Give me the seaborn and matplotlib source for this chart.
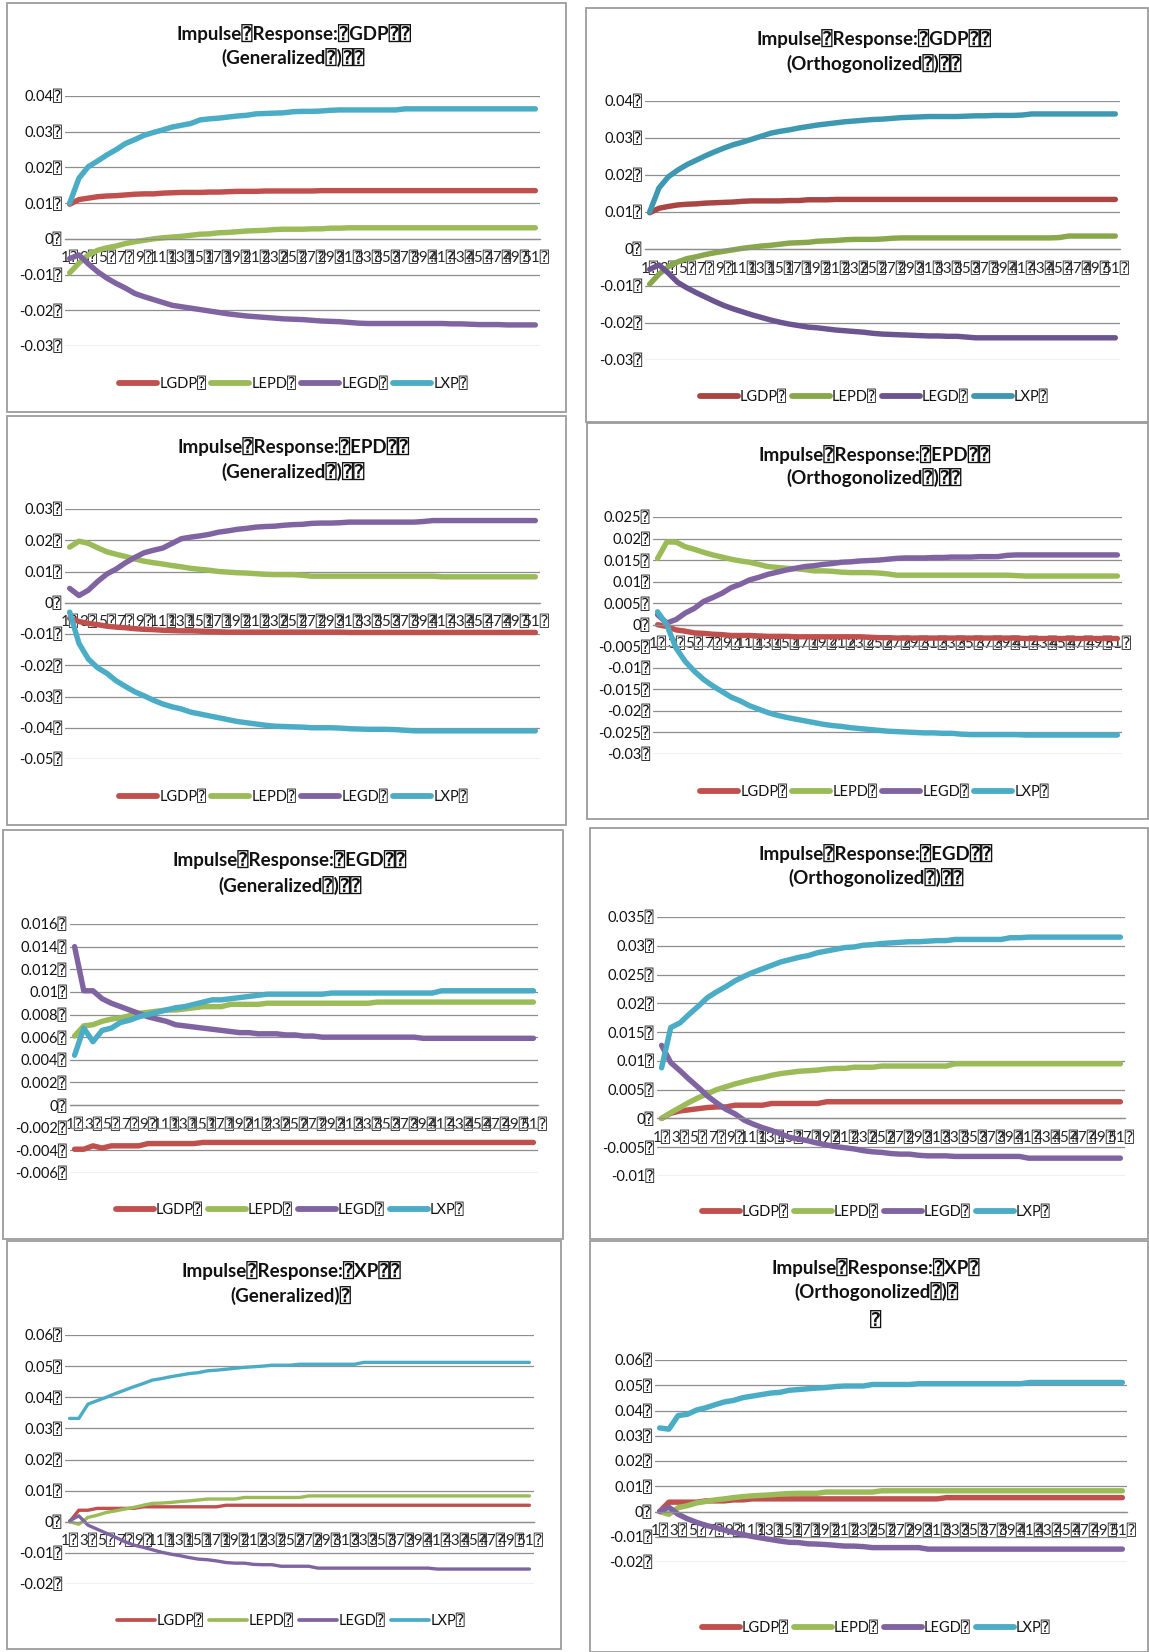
import matplotlib
matplotlib.use("Agg")
import matplotlib.pyplot as plt
from matplotlib.lines import Line2D
from matplotlib.patches import Rectangle
import pandas as pd
import seaborn as sns

sns.set_theme(style="white")
FONTS = ["Lato", "DejaVu Sans", "DejaVu Sans Mono"]
plt.rcParams["font.family"] = FONTS

BOX = "\u2370"

periods = list(range(1, 52))
variables = ["LGDP", "LEPD", "LEGD", "LXP"]
legend_labels = [v + BOX for v in variables]
x_tick_values = periods[::2]
x_tick_labels = [f"{p}{BOX}" for p in x_tick_values]

# ---------------- shock: LGDP, generalized ----------------
gdp_gen_lgdp = [0.0097, 0.0110, 0.0114, 0.0118, 0.0120, 0.0121, 0.0123, 0.0125, 0.0126, 0.0126,
                0.0128, 0.0129, 0.0130, 0.0130, 0.0130, 0.0131, 0.0131, 0.0132, 0.0133, 0.0133,
                0.0133, 0.0134, 0.0134, 0.0134, 0.0134, 0.0134, 0.0134, 0.0135, 0.0135, 0.0135,
                0.0135, 0.0135, 0.0135, 0.0135, 0.0135, 0.0135, 0.0135, 0.0135, 0.0135, 0.0135,
                0.0135, 0.0135, 0.0135, 0.0135, 0.0135, 0.0135, 0.0135, 0.0135, 0.0135, 0.0135, 0.0135]
gdp_gen_lepd = [-0.0095, -0.0068, -0.0045, -0.0032, -0.0025, -0.0020, -0.0013, -0.0008, -0.0004, 0.0000,
                0.0003, 0.0005, 0.0007, 0.0010, 0.0013, 0.0014, 0.0017, 0.0018, 0.0020, 0.0022,
                0.0023, 0.0024, 0.0026, 0.0027, 0.0027, 0.0027, 0.0028, 0.0028, 0.0030, 0.0030,
                0.0031, 0.0031, 0.0031, 0.0031, 0.0031, 0.0031, 0.0031, 0.0031, 0.0031, 0.0031,
                0.0031, 0.0031, 0.0031, 0.0031, 0.0031, 0.0031, 0.0031, 0.0031, 0.0031, 0.0031, 0.0031]
gdp_gen_legd = [-0.0055, -0.0045, -0.0070, -0.0092, -0.0110, -0.0125, -0.0138, -0.0153, -0.0162, -0.0170,
                -0.0178, -0.0186, -0.0190, -0.0194, -0.0198, -0.0202, -0.0206, -0.0210, -0.0213, -0.0216,
                -0.0218, -0.0220, -0.0222, -0.0224, -0.0225, -0.0226, -0.0228, -0.0230, -0.0231, -0.0232,
                -0.0234, -0.0236, -0.0237, -0.0237, -0.0237, -0.0237, -0.0237, -0.0237, -0.0237, -0.0237,
                -0.0237, -0.0238, -0.0238, -0.0239, -0.0240, -0.0240, -0.0240, -0.0241, -0.0241, -0.0241, -0.0241]
gdp_gen_lxp = [0.0100, 0.0170, 0.0202, 0.0218, 0.0235, 0.0250, 0.0267, 0.0278, 0.0290, 0.0298,
               0.0305, 0.0313, 0.0318, 0.0323, 0.0333, 0.0336, 0.0338, 0.0341, 0.0344, 0.0346,
               0.0350, 0.0351, 0.0352, 0.0353, 0.0356, 0.0357, 0.0357, 0.0358, 0.0360, 0.0361,
               0.0361, 0.0361, 0.0361, 0.0361, 0.0361, 0.0361, 0.0364, 0.0364, 0.0364, 0.0364,
               0.0364, 0.0364, 0.0364, 0.0364, 0.0364, 0.0364, 0.0364, 0.0364, 0.0364, 0.0364, 0.0364]

# ---------------- shock: LGDP, orthogonalized ----------------
gdp_orth_lgdp = [0.0098, 0.0110, 0.0115, 0.0119, 0.0121, 0.0122, 0.0124, 0.0125, 0.0126, 0.0127,
                 0.0129, 0.0130, 0.0130, 0.0130, 0.0130, 0.0131, 0.0131, 0.0133, 0.0133, 0.0133,
                 0.0134, 0.0134, 0.0134, 0.0134, 0.0134, 0.0134, 0.0134, 0.0134, 0.0134, 0.0134,
                 0.0134, 0.0134, 0.0134, 0.0134, 0.0134, 0.0134, 0.0134, 0.0134, 0.0134, 0.0134,
                 0.0134, 0.0134, 0.0134, 0.0134, 0.0134, 0.0134, 0.0134, 0.0134, 0.0134, 0.0134, 0.0134]
gdp_orth_lepd = [-0.0095, -0.0068, -0.0048, -0.0035, -0.0026, -0.0021, -0.0015, -0.0010, -0.0006, -0.0002,
                 0.0002, 0.0005, 0.0008, 0.0010, 0.0013, 0.0016, 0.0017, 0.0018, 0.0021, 0.0022,
                 0.0023, 0.0025, 0.0026, 0.0026, 0.0026, 0.0027, 0.0029, 0.0030, 0.0030, 0.0030,
                 0.0030, 0.0030, 0.0030, 0.0030, 0.0030, 0.0030, 0.0030, 0.0030, 0.0030, 0.0030,
                 0.0030, 0.0030, 0.0030, 0.0030, 0.0031, 0.0035, 0.0035, 0.0035, 0.0035, 0.0035, 0.0035]
gdp_orth_legd = [-0.0055, -0.0043, -0.0065, -0.0090, -0.0105, -0.0118, -0.0130, -0.0142, -0.0153, -0.0162,
                 -0.0170, -0.0178, -0.0185, -0.0192, -0.0198, -0.0203, -0.0207, -0.0211, -0.0213, -0.0216,
                 -0.0219, -0.0221, -0.0223, -0.0225, -0.0228, -0.0230, -0.0231, -0.0232, -0.0233, -0.0234,
                 -0.0235, -0.0235, -0.0236, -0.0236, -0.0238, -0.0240, -0.0240, -0.0240, -0.0240, -0.0240,
                 -0.0240, -0.0240, -0.0240, -0.0240, -0.0240, -0.0240, -0.0240, -0.0240, -0.0240, -0.0240, -0.0240]
gdp_orth_lxp = [0.0100, 0.0165, 0.0195, 0.0213, 0.0228, 0.0240, 0.0252, 0.0263, 0.0273, 0.0282,
                0.0289, 0.0297, 0.0305, 0.0313, 0.0318, 0.0322, 0.0327, 0.0331, 0.0335, 0.0338,
                0.0341, 0.0344, 0.0346, 0.0348, 0.0350, 0.0351, 0.0353, 0.0355, 0.0356, 0.0357,
                0.0358, 0.0358, 0.0358, 0.0358, 0.0359, 0.0360, 0.0360, 0.0361, 0.0361, 0.0361,
                0.0362, 0.0365, 0.0365, 0.0365, 0.0365, 0.0365, 0.0365, 0.0365, 0.0365, 0.0365, 0.0365]

# ---------------- shock: LEPD, generalized ----------------
epd_gen_lgdp = [-0.0050, -0.0060, -0.0066, -0.0070, -0.0075, -0.0078, -0.0080, -0.0083, -0.0085, -0.0086,
                -0.0088, -0.0089, -0.0090, -0.0090, -0.0091, -0.0092, -0.0093, -0.0094, -0.0094, -0.0094,
                -0.0094, -0.0094, -0.0094, -0.0094, -0.0094, -0.0094, -0.0094, -0.0094, -0.0094, -0.0094,
                -0.0095, -0.0095, -0.0095, -0.0095, -0.0095, -0.0095, -0.0095, -0.0095, -0.0095, -0.0095,
                -0.0095, -0.0095, -0.0095, -0.0095, -0.0095, -0.0095, -0.0095, -0.0095, -0.0095, -0.0095, -0.0095]
epd_gen_lepd = [0.0178, 0.0197, 0.0190, 0.0176, 0.0163, 0.0155, 0.0148, 0.0140, 0.0133, 0.0128,
                0.0124, 0.0119, 0.0115, 0.0110, 0.0107, 0.0104, 0.0100, 0.0098, 0.0096, 0.0095,
                0.0093, 0.0091, 0.0090, 0.0090, 0.0090, 0.0088, 0.0085, 0.0085, 0.0085, 0.0085,
                0.0085, 0.0085, 0.0085, 0.0085, 0.0085, 0.0085, 0.0085, 0.0085, 0.0085, 0.0085,
                0.0083, 0.0083, 0.0083, 0.0083, 0.0083, 0.0083, 0.0083, 0.0083, 0.0083, 0.0083, 0.0083]
epd_gen_legd = [0.0046, 0.0023, 0.0040, 0.0068, 0.0092, 0.0108, 0.0128, 0.0145, 0.0160, 0.0168,
                0.0175, 0.0190, 0.0205, 0.0210, 0.0214, 0.0219, 0.0226, 0.0230, 0.0235, 0.0238,
                0.0242, 0.0244, 0.0245, 0.0248, 0.0250, 0.0251, 0.0254, 0.0255, 0.0255, 0.0256,
                0.0258, 0.0258, 0.0258, 0.0258, 0.0258, 0.0258, 0.0258, 0.0258, 0.0260, 0.0263,
                0.0263, 0.0263, 0.0263, 0.0263, 0.0263, 0.0263, 0.0263, 0.0263, 0.0263, 0.0263, 0.0263]
epd_gen_lxp = [-0.0030, -0.0130, -0.0180, -0.0208, -0.0226, -0.0250, -0.0268, -0.0285, -0.0298, -0.0312,
               -0.0324, -0.0333, -0.0340, -0.0350, -0.0356, -0.0362, -0.0368, -0.0374, -0.0380, -0.0384,
               -0.0388, -0.0392, -0.0395, -0.0396, -0.0397, -0.0398, -0.0400, -0.0400, -0.0400, -0.0401,
               -0.0403, -0.0404, -0.0405, -0.0405, -0.0405, -0.0406, -0.0408, -0.0410, -0.0410, -0.0410,
               -0.0410, -0.0410, -0.0410, -0.0410, -0.0410, -0.0410, -0.0410, -0.0410, -0.0410, -0.0410, -0.0410]

# ---------------- shock: LEPD, orthogonalized ----------------
epd_orth_lgdp = [0.0000, -0.0004, -0.0012, -0.0015, -0.0019, -0.0020, -0.0022, -0.0023, -0.0025, -0.0025,
                 -0.0025, -0.0026, -0.0027, -0.0027, -0.0027, -0.0028, -0.0028, -0.0028, -0.0028, -0.0028,
                 -0.0028, -0.0028, -0.0028, -0.0029, -0.0030, -0.0030, -0.0031, -0.0031, -0.0031, -0.0031,
                 -0.0031, -0.0031, -0.0031, -0.0031, -0.0031, -0.0031, -0.0031, -0.0031, -0.0031, -0.0031,
                 -0.0032, -0.0032, -0.0032, -0.0032, -0.0032, -0.0032, -0.0032, -0.0032, -0.0032, -0.0032, -0.0032]
epd_orth_lepd = [0.0154, 0.0192, 0.0192, 0.0181, 0.0175, 0.0168, 0.0162, 0.0157, 0.0152, 0.0148,
                 0.0145, 0.0140, 0.0135, 0.0133, 0.0131, 0.0130, 0.0128, 0.0125, 0.0125, 0.0124,
                 0.0122, 0.0121, 0.0121, 0.0121, 0.0120, 0.0118, 0.0115, 0.0115, 0.0115, 0.0115,
                 0.0115, 0.0115, 0.0115, 0.0115, 0.0115, 0.0115, 0.0115, 0.0115, 0.0115, 0.0114,
                 0.0113, 0.0113, 0.0113, 0.0113, 0.0113, 0.0113, 0.0113, 0.0113, 0.0113, 0.0113, 0.0113]
epd_orth_legd = [0.0023, 0.0004, 0.0012, 0.0027, 0.0038, 0.0054, 0.0063, 0.0073, 0.0086, 0.0094,
                 0.0104, 0.0110, 0.0117, 0.0122, 0.0127, 0.0131, 0.0135, 0.0137, 0.0140, 0.0142,
                 0.0145, 0.0146, 0.0148, 0.0149, 0.0150, 0.0152, 0.0154, 0.0155, 0.0155, 0.0155,
                 0.0156, 0.0156, 0.0157, 0.0157, 0.0157, 0.0158, 0.0158, 0.0158, 0.0161, 0.0162,
                 0.0162, 0.0162, 0.0162, 0.0162, 0.0162, 0.0162, 0.0162, 0.0162, 0.0162, 0.0162, 0.0162]
epd_orth_lxp = [0.0030, 0.0000, -0.0054, -0.0085, -0.0108, -0.0127, -0.0142, -0.0155, -0.0168, -0.0177,
                -0.0188, -0.0196, -0.0204, -0.0210, -0.0215, -0.0219, -0.0223, -0.0227, -0.0231, -0.0234,
                -0.0236, -0.0239, -0.0241, -0.0243, -0.0245, -0.0247, -0.0248, -0.0249, -0.0250, -0.0251,
                -0.0251, -0.0252, -0.0252, -0.0254, -0.0255, -0.0255, -0.0255, -0.0255, -0.0255, -0.0255,
                -0.0256, -0.0256, -0.0256, -0.0256, -0.0256, -0.0256, -0.0256, -0.0256, -0.0256, -0.0256, -0.0256]

# ---------------- shock: LEGD, generalized ----------------
egd_gen_lgdp = [-0.0039, -0.0039, -0.0036, -0.0038, -0.0036, -0.0036, -0.0036, -0.0036, -0.0034, -0.0034,
                -0.0034, -0.0034, -0.0034, -0.0034, -0.0033, -0.0033, -0.0033, -0.0033, -0.0033, -0.0033,
                -0.0033, -0.0033, -0.0033, -0.0033, -0.0033, -0.0033, -0.0033, -0.0033, -0.0033, -0.0033,
                -0.0033, -0.0033, -0.0033, -0.0033, -0.0033, -0.0033, -0.0033, -0.0033, -0.0033, -0.0033,
                -0.0033, -0.0033, -0.0033, -0.0033, -0.0033, -0.0033, -0.0033, -0.0033, -0.0033, -0.0033, -0.0033]
egd_gen_lepd = [0.0061, 0.0070, 0.0071, 0.0074, 0.0076, 0.0077, 0.0079, 0.0081, 0.0082, 0.0083,
                0.0084, 0.0084, 0.0085, 0.0086, 0.0087, 0.0087, 0.0087, 0.0089, 0.0089, 0.0089,
                0.0089, 0.0090, 0.0090, 0.0090, 0.0090, 0.0090, 0.0090, 0.0090, 0.0090, 0.0090,
                0.0090, 0.0090, 0.0090, 0.0091, 0.0091, 0.0091, 0.0091, 0.0091, 0.0091, 0.0091,
                0.0091, 0.0091, 0.0091, 0.0091, 0.0091, 0.0091, 0.0091, 0.0091, 0.0091, 0.0091, 0.0091]
egd_gen_legd = [0.0140, 0.0101, 0.0101, 0.0094, 0.0090, 0.0087, 0.0084, 0.0081, 0.0078, 0.0076,
                0.0074, 0.0071, 0.0070, 0.0069, 0.0068, 0.0067, 0.0066, 0.0065, 0.0064, 0.0064,
                0.0063, 0.0063, 0.0063, 0.0062, 0.0062, 0.0061, 0.0061, 0.0060, 0.0060, 0.0060,
                0.0060, 0.0060, 0.0060, 0.0060, 0.0060, 0.0060, 0.0060, 0.0060, 0.0059, 0.0059,
                0.0059, 0.0059, 0.0059, 0.0059, 0.0059, 0.0059, 0.0059, 0.0059, 0.0059, 0.0059, 0.0059]
egd_gen_lxp = [0.0044, 0.0068, 0.0056, 0.0066, 0.0068, 0.0073, 0.0075, 0.0078, 0.0080, 0.0082,
               0.0084, 0.0086, 0.0087, 0.0089, 0.0091, 0.0093, 0.0093, 0.0094, 0.0095, 0.0096,
               0.0097, 0.0098, 0.0098, 0.0098, 0.0098, 0.0098, 0.0098, 0.0098, 0.0099, 0.0099,
               0.0099, 0.0099, 0.0099, 0.0099, 0.0099, 0.0099, 0.0099, 0.0099, 0.0099, 0.0099,
               0.0101, 0.0101, 0.0101, 0.0101, 0.0101, 0.0101, 0.0101, 0.0101, 0.0101, 0.0101, 0.0101]

# ---------------- shock: LEGD, orthogonalized ----------------
egd_orth_lgdp = [0.0000, 0.0009, 0.0013, 0.0015, 0.0017, 0.0019, 0.0020, 0.0020, 0.0023, 0.0023,
                 0.0023, 0.0023, 0.0026, 0.0026, 0.0026, 0.0026, 0.0026, 0.0026, 0.0029, 0.0029,
                 0.0029, 0.0029, 0.0029, 0.0029, 0.0029, 0.0029, 0.0029, 0.0029, 0.0029, 0.0029,
                 0.0029, 0.0029, 0.0029, 0.0029, 0.0029, 0.0029, 0.0029, 0.0029, 0.0029, 0.0029,
                 0.0029, 0.0029, 0.0029, 0.0029, 0.0029, 0.0029, 0.0029, 0.0029, 0.0029, 0.0029, 0.0029]
egd_orth_lepd = [0.0000, 0.0010, 0.0019, 0.0028, 0.0036, 0.0043, 0.0050, 0.0055, 0.0060, 0.0064,
                 0.0068, 0.0071, 0.0075, 0.0078, 0.0080, 0.0082, 0.0083, 0.0084, 0.0086, 0.0087,
                 0.0087, 0.0089, 0.0089, 0.0089, 0.0091, 0.0091, 0.0091, 0.0091, 0.0091, 0.0091,
                 0.0091, 0.0091, 0.0095, 0.0095, 0.0095, 0.0095, 0.0095, 0.0095, 0.0095, 0.0095,
                 0.0095, 0.0095, 0.0095, 0.0095, 0.0095, 0.0095, 0.0095, 0.0095, 0.0095, 0.0095, 0.0095]
egd_orth_legd = [0.0127, 0.0097, 0.0083, 0.0068, 0.0054, 0.0039, 0.0027, 0.0016, 0.0008, -0.0003,
                 -0.0010, -0.0016, -0.0021, -0.0027, -0.0033, -0.0036, -0.0039, -0.0043, -0.0046, -0.0049,
                 -0.0051, -0.0053, -0.0056, -0.0058, -0.0059, -0.0061, -0.0062, -0.0062, -0.0064, -0.0065,
                 -0.0065, -0.0065, -0.0066, -0.0066, -0.0066, -0.0066, -0.0066, -0.0066, -0.0066, -0.0066,
                 -0.0069, -0.0069, -0.0069, -0.0069, -0.0069, -0.0069, -0.0069, -0.0069, -0.0069, -0.0069, -0.0069]
egd_orth_lxp = [0.0088, 0.0158, 0.0166, 0.0181, 0.0195, 0.0210, 0.0220, 0.0229, 0.0239, 0.0247,
                0.0254, 0.0260, 0.0266, 0.0272, 0.0276, 0.0280, 0.0283, 0.0288, 0.0291, 0.0294,
                0.0297, 0.0298, 0.0301, 0.0302, 0.0304, 0.0305, 0.0306, 0.0307, 0.0307, 0.0308,
                0.0309, 0.0309, 0.0311, 0.0311, 0.0311, 0.0311, 0.0311, 0.0311, 0.0314, 0.0314,
                0.0315, 0.0315, 0.0315, 0.0315, 0.0315, 0.0315, 0.0315, 0.0315, 0.0315, 0.0315, 0.0315]

# ---------------- shock: LXP, generalized ----------------
xp_gen_lgdp = [0.0000, 0.0037, 0.0037, 0.0043, 0.0043, 0.0043, 0.0043, 0.0043, 0.0048, 0.0048,
               0.0048, 0.0048, 0.0048, 0.0048, 0.0048, 0.0048, 0.0048, 0.0053, 0.0053, 0.0053,
               0.0053, 0.0053, 0.0053, 0.0053, 0.0053, 0.0053, 0.0053, 0.0053, 0.0053, 0.0053,
               0.0053, 0.0053, 0.0053, 0.0053, 0.0053, 0.0053, 0.0053, 0.0053, 0.0053, 0.0053,
               0.0053, 0.0053, 0.0053, 0.0053, 0.0053, 0.0053, 0.0053, 0.0053, 0.0053, 0.0053, 0.0053]
xp_gen_lepd = [0.0000, -0.0008, 0.0014, 0.0021, 0.0030, 0.0035, 0.0041, 0.0046, 0.0053, 0.0059,
               0.0060, 0.0062, 0.0065, 0.0067, 0.0070, 0.0073, 0.0073, 0.0073, 0.0073, 0.0078,
               0.0078, 0.0078, 0.0078, 0.0078, 0.0078, 0.0078, 0.0083, 0.0083, 0.0083, 0.0083,
               0.0083, 0.0083, 0.0083, 0.0083, 0.0083, 0.0083, 0.0083, 0.0083, 0.0083, 0.0083,
               0.0083, 0.0083, 0.0083, 0.0083, 0.0083, 0.0083, 0.0083, 0.0083, 0.0083, 0.0083, 0.0083]
xp_gen_legd = [0.0003, 0.0019, -0.0011, -0.0024, -0.0037, -0.0050, -0.0064, -0.0075, -0.0082, -0.0090,
               -0.0098, -0.0104, -0.0109, -0.0115, -0.0120, -0.0122, -0.0126, -0.0131, -0.0133, -0.0133,
               -0.0137, -0.0138, -0.0138, -0.0143, -0.0143, -0.0143, -0.0143, -0.0149, -0.0149, -0.0149,
               -0.0149, -0.0149, -0.0149, -0.0149, -0.0149, -0.0149, -0.0149, -0.0149, -0.0149, -0.0149,
               -0.0152, -0.0152, -0.0152, -0.0152, -0.0152, -0.0152, -0.0152, -0.0152, -0.0152, -0.0152, -0.0152]
xp_gen_lxp = [0.0332, 0.0332, 0.0378, 0.0389, 0.0400, 0.0412, 0.0423, 0.0434, 0.0444, 0.0455,
              0.0460, 0.0466, 0.0471, 0.0476, 0.0479, 0.0485, 0.0487, 0.0490, 0.0493, 0.0496,
              0.0498, 0.0500, 0.0503, 0.0503, 0.0503, 0.0506, 0.0506, 0.0506, 0.0506, 0.0506,
              0.0506, 0.0506, 0.0512, 0.0512, 0.0512, 0.0512, 0.0512, 0.0512, 0.0512, 0.0512,
              0.0512, 0.0512, 0.0512, 0.0512, 0.0512, 0.0512, 0.0512, 0.0512, 0.0512, 0.0512, 0.0512]

# ---------------- shock: LXP, orthogonalized ----------------
xp_orth_lgdp = [0.0000, 0.0037, 0.0037, 0.0037, 0.0037, 0.0042, 0.0042, 0.0042, 0.0046, 0.0046,
                0.0050, 0.0050, 0.0050, 0.0050, 0.0050, 0.0050, 0.0050, 0.0050, 0.0050, 0.0050,
                0.0050, 0.0050, 0.0050, 0.0050, 0.0050, 0.0050, 0.0050, 0.0050, 0.0050, 0.0050,
                0.0050, 0.0055, 0.0055, 0.0055, 0.0055, 0.0055, 0.0055, 0.0055, 0.0055, 0.0055,
                0.0055, 0.0055, 0.0055, 0.0055, 0.0055, 0.0055, 0.0055, 0.0055, 0.0055, 0.0055, 0.0055]
xp_orth_lepd = [0.0000, -0.0011, 0.0015, 0.0023, 0.0034, 0.0040, 0.0046, 0.0050, 0.0055, 0.0059,
                0.0062, 0.0064, 0.0066, 0.0069, 0.0071, 0.0072, 0.0072, 0.0072, 0.0077, 0.0077,
                0.0077, 0.0077, 0.0077, 0.0077, 0.0082, 0.0082, 0.0082, 0.0082, 0.0082, 0.0082,
                0.0082, 0.0082, 0.0082, 0.0082, 0.0082, 0.0082, 0.0082, 0.0082, 0.0082, 0.0082,
                0.0082, 0.0082, 0.0082, 0.0082, 0.0082, 0.0082, 0.0082, 0.0082, 0.0082, 0.0082, 0.0082]
xp_orth_legd = [0.0000, 0.0017, -0.0011, -0.0029, -0.0043, -0.0055, -0.0063, -0.0074, -0.0083, -0.0091,
                -0.0099, -0.0105, -0.0111, -0.0117, -0.0122, -0.0123, -0.0128, -0.0129, -0.0131, -0.0134,
                -0.0137, -0.0137, -0.0139, -0.0143, -0.0143, -0.0143, -0.0143, -0.0143, -0.0143, -0.0149,
                -0.0149, -0.0149, -0.0149, -0.0149, -0.0149, -0.0149, -0.0149, -0.0149, -0.0149, -0.0149,
                -0.0149, -0.0149, -0.0149, -0.0149, -0.0149, -0.0149, -0.0149, -0.0149, -0.0149, -0.0149, -0.0149]
xp_orth_lxp = [0.0331, 0.0326, 0.0380, 0.0385, 0.0402, 0.0411, 0.0423, 0.0434, 0.0440, 0.0451,
               0.0457, 0.0463, 0.0469, 0.0472, 0.0480, 0.0483, 0.0486, 0.0489, 0.0491, 0.0495,
               0.0497, 0.0497, 0.0497, 0.0503, 0.0503, 0.0503, 0.0503, 0.0503, 0.0506, 0.0506,
               0.0506, 0.0506, 0.0506, 0.0506, 0.0506, 0.0506, 0.0506, 0.0506, 0.0506, 0.0506,
               0.0511, 0.0511, 0.0511, 0.0511, 0.0511, 0.0511, 0.0511, 0.0511, 0.0511, 0.0511, 0.0511]

# y-axis tick values of each chart
yticks_gdp = [-0.03, -0.02, -0.01, 0.0, 0.01, 0.02, 0.03, 0.04]
yticks_epd_gen = [-0.05, -0.04, -0.03, -0.02, -0.01, 0.0, 0.01, 0.02, 0.03]
yticks_epd_orth = [-0.03, -0.025, -0.02, -0.015, -0.01, -0.005, 0.0, 0.005, 0.01, 0.015, 0.02, 0.025]
yticks_egd_gen = [-0.006, -0.004, -0.002, 0.0, 0.002, 0.004, 0.006, 0.008, 0.01, 0.012, 0.014, 0.016]
yticks_egd_orth = [-0.01, -0.005, 0.0, 0.005, 0.01, 0.015, 0.02, 0.025, 0.03, 0.035]
yticks_xp = [-0.02, -0.01, 0.0, 0.01, 0.02, 0.03, 0.04, 0.05, 0.06]

# chart titles
titles = [
    [f"Impulse{BOX}Response:{BOX}GDP{BOX}{BOX}", f"(Generalized{BOX}){BOX}{BOX}"],
    [f"Impulse{BOX}Response:{BOX}GDP{BOX}{BOX}", f"(Orthogonolized{BOX}){BOX}{BOX}"],
    [f"Impulse{BOX}Response:{BOX}EPD{BOX}{BOX}", f"(Generalized{BOX}){BOX}{BOX}"],
    [f"Impulse{BOX}Response:{BOX}EPD{BOX}{BOX}", f"(Orthogonolized{BOX}){BOX}{BOX}"],
    [f"Impulse{BOX}Response:{BOX}EGD{BOX}{BOX}", f"(Generalized{BOX}){BOX}{BOX}"],
    [f"Impulse{BOX}Response:{BOX}EGD{BOX}{BOX}", f"(Orthogonolized{BOX}){BOX}{BOX}"],
    [f"Impulse{BOX}Response:{BOX}XP{BOX}{BOX}", f"(Generalized){BOX}"],
    [f"Impulse{BOX}Response:{BOX}XP{BOX}", f"(Orthogonolized{BOX}){BOX}", BOX],
]

OFFICE = ["#C0504D", "#9BBB59", "#8064A2", "#4BACC6"]
OFFICE_DARK = ["#A94542", "#88A84B", "#6C5491", "#3E98B1"]

W, H = 1149, 1652

# pixel layout of each chart: frame box, plot area, title rows, legend row
charts = [
    dict(series=[gdp_gen_lgdp, gdp_gen_lepd, gdp_gen_legd, gdp_gen_lxp], yticks=yticks_gdp,
         frame=(7, 3, 566, 412), plot=(65, 540, 96, 346), title_y=[34, 59], legend_y=384,
         colors=OFFICE, lw=3.9),
    dict(series=[gdp_orth_lgdp, gdp_orth_lepd, gdp_orth_legd, gdp_orth_lxp], yticks=yticks_gdp,
         frame=(586, 8, 1148, 422), plot=(645, 1120, 101, 360), title_y=[39, 64], legend_y=397,
         colors=OFFICE_DARK, lw=3.9),
    dict(series=[epd_gen_lgdp, epd_gen_lepd, epd_gen_legd, epd_gen_lxp], yticks=yticks_epd_gen,
         frame=(7, 416, 566, 825), plot=(65, 540, 509, 759), title_y=[447, 472], legend_y=797,
         colors=OFFICE, lw=3.9),
    dict(series=[epd_orth_lgdp, epd_orth_lepd, epd_orth_legd, epd_orth_lxp], yticks=yticks_epd_orth,
         frame=(587, 423, 1148, 819), plot=(653, 1122, 517, 754), title_y=[455, 479], legend_y=792,
         colors=OFFICE, lw=3.9),
    dict(series=[egd_gen_lgdp, egd_gen_lepd, egd_gen_legd, egd_gen_lxp], yticks=yticks_egd_gen,
         frame=(3, 830, 563, 1239), plot=(70, 538, 924, 1173), title_y=[860, 887], legend_y=1210,
         colors=OFFICE, lw=3.9),
    dict(series=[egd_orth_lgdp, egd_orth_lepd, egd_orth_legd, egd_orth_lxp], yticks=yticks_egd_orth,
         frame=(590, 828, 1148, 1239), plot=(657, 1125, 917, 1176), title_y=[854, 879], legend_y=1212,
         colors=OFFICE, lw=3.9),
    dict(series=[xp_gen_lgdp, xp_gen_lepd, xp_gen_legd, xp_gen_lxp], yticks=yticks_xp,
         frame=(7, 1241, 561, 1649), plot=(65, 534, 1335, 1584), title_y=[1271, 1297], legend_y=1621,
         colors=OFFICE, lw=2.4),
    dict(series=[xp_orth_lgdp, xp_orth_lepd, xp_orth_legd, xp_orth_lxp], yticks=yticks_xp,
         frame=(590, 1241, 1148, 1652), plot=(655, 1127, 1360, 1562), title_y=[1268, 1293, 1321],
         legend_y=1628, colors=OFFICE, lw=3.9),
]

GRID = "#8E8E8E"
FRAME = "#9C9C9C"

fig = plt.figure(figsize=(W / 100, H / 100), dpi=100)
fig.patch.set_facecolor("white")


def fx(px):
    return px / W


def fy(py):
    return 1 - py / H


for chart, title_lines in zip(charts, titles):
    fx0, fy0, fx1, fy1 = chart["frame"]
    fig.add_artist(Rectangle((fx(fx0), fy(fy1)), fx(fx1 - fx0), (fy1 - fy0) / H,
                             transform=fig.transFigure, fill=False, edgecolor=FRAME,
                             linewidth=1.3, zorder=0))

    gx0, gx1, gtop, gbot = chart["plot"]
    ax = fig.add_axes([fx(gx0), fy(gbot), fx(gx1 - gx0), (gbot - gtop) / H])
    ax.set_facecolor("none")

    df = pd.DataFrame({
        "period": periods * len(variables),
        "value": [v for s in chart["series"] for v in s],
        "variable": [name for name in variables for _ in periods],
    })
    sns.lineplot(data=df, x="period", y="value", hue="variable", hue_order=variables,
                 palette=chart["colors"], linewidth=chart["lw"], legend=False, ax=ax,
                 sort=False, errorbar=None)
    for line in ax.lines:
        line.set_solid_capstyle("round")
        line.set_solid_joinstyle("round")

    yt = chart["yticks"]
    ax.set_ylim(yt[0], yt[-1])
    ax.set_xlim(0.5, 51.5)
    ax.set_yticks(yt)
    ax.set_yticklabels([f"{t:g}{BOX}" for t in yt], fontsize=10.5, color="#111111")
    ax.set_xticks(x_tick_values)
    ax.set_xticklabels(x_tick_labels, fontsize=10.5, color="#111111")
    ax.tick_params(axis="y", length=0, pad=2)
    ax.tick_params(axis="x", length=0, pad=9)
    ax.yaxis.grid(True, color=GRID, linewidth=0.9)
    ax.xaxis.grid(False)
    ax.set_axisbelow(True)
    ax.set_xlabel("")
    ax.set_ylabel("")
    for side in ("left", "right", "top"):
        ax.spines[side].set_visible(False)
    ax.spines["bottom"].set_position(("data", 0))
    ax.spines["bottom"].set_color(GRID)
    ax.spines["bottom"].set_linewidth(0.9)

    cx = (fx0 + fx1) / 2 + 7
    for line_text, ty in zip(title_lines, chart["title_y"]):
        fig.text(fx(cx), fy(ty), line_text, ha="center", va="center",
                 fontsize=13.5, fontweight="bold", color="#111111")

    handles = [Line2D([], [], color=c, linewidth=chart["lw"] + 0.3, solid_capstyle="round")
               for c in chart["colors"]]
    fig.legend(handles, legend_labels, loc="center", bbox_to_anchor=(fx(cx), fy(chart["legend_y"])),
               ncol=4, frameon=False, fontsize=10.5, handlelength=2.6, handletextpad=0.15,
               columnspacing=0.35, borderpad=0, labelcolor="#111111")

fig.savefig("out.png", dpi=100, facecolor="white")
